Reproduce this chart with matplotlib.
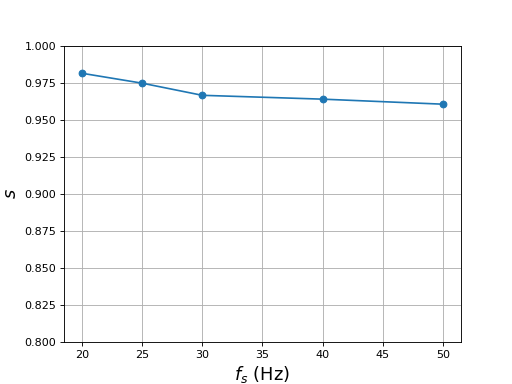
import matplotlib
matplotlib.use('Agg')
import matplotlib.pyplot as plt

fs = [20, 25, 30, 40, 50]
s_vals = [0.9816, 0.9749, 0.9667, 0.9641, 0.9607]

fig = plt.figure(figsize=(6.4, 4.8), dpi=80)
plt.plot(fs, s_vals, marker='o')
plt.ylim(0.8, 1.0)
plt.xlabel('$f_s$ (Hz)', fontsize=16)
plt.ylabel('$s$', fontsize=16)
plt.grid(True)
plt.savefig('out.png')
